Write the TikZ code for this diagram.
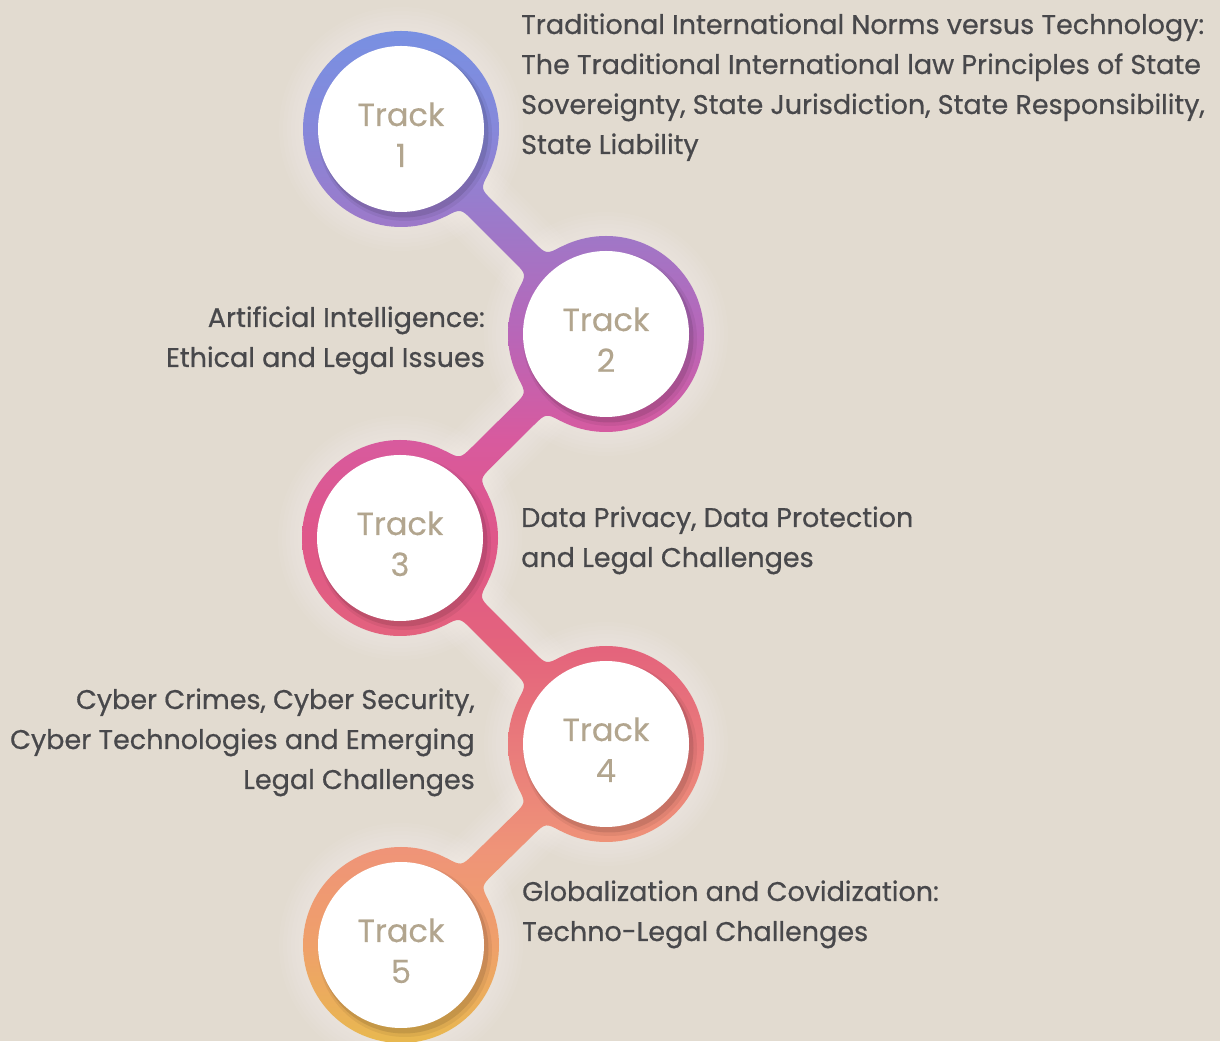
\documentclass[tikz,border=0pt]{standalone}
\usepackage{fontspec}
\setmainfont{Poppins}
\newfontfamily\descfont{Poppins}[FakeBold=0.6]
\newfontfamily\lblfont{Poppins}[FakeBold=0.3]
\usetikzlibrary{calc}
\definecolor{bg}{HTML}{E2DBD0}
\definecolor{txt}{HTML}{48484B}
\definecolor{lbl}{HTML}{B2A58E}
\definecolor{g0}{HTML}{E8B850}
\definecolor{g1}{HTML}{EFA06A}
\definecolor{g2}{HTML}{EF9478}
\definecolor{g3}{HTML}{E97A7B}
\definecolor{g4}{HTML}{E4647C}
\definecolor{g5}{HTML}{DF5789}
\definecolor{g6}{HTML}{D85A9E}
\definecolor{g7}{HTML}{B866B8}
\definecolor{g8}{HTML}{9E78C8}
\definecolor{g9}{HTML}{8688DA}
\definecolor{g10}{HTML}{7890E2}
\pgfdeclareverticalshading{trackgrad}{100bp}{color(0bp)=(g0); color(25bp)=(g0);
  color(29.61bp)=(g1); color(34.17bp)=(g2); color(39.27bp)=(g3); color(43.78bp)=(g4);
  color(49.16bp)=(g5); color(53.87bp)=(g6); color(58.96bp)=(g7); color(63.95bp)=(g8);
  color(68.81bp)=(g9); color(73.56bp)=(g10); color(75bp)=(g10); color(100bp)=(g10)}
\newcommand\ringfill[1]{%
  \begin{scope}
    \clip (#1) circle[radius=98];
    \shade[shading=trackgrad] (0,0) rectangle (1220,1041);
  \end{scope}}
\newcommand\linkfill[2]{%
  \begin{scope}
    \clip ($(#1)!30.5pt!90:(#2)$)
      -- ($(#1)!93.1pt!(#2)!30.5pt!90:(#2)$)
      .. controls ($(#1)!98.5pt!(#2)!14pt!90:(#2)$) .. ($(#1)!115.9pt!(#2)!14pt!90:(#2)$)
      -- ($(#2)!115.9pt!(#1)!14pt!-90:(#1)$)
      .. controls ($(#2)!98.5pt!(#1)!14pt!-90:(#1)$) .. ($(#2)!93.1pt!(#1)!30.5pt!-90:(#1)$)
      -- ($(#2)!30.5pt!-90:(#1)$)
      -- ($(#2)!30.5pt!90:(#1)$)
      -- ($(#2)!93.1pt!(#1)!30.5pt!90:(#1)$)
      .. controls ($(#2)!98.5pt!(#1)!14pt!90:(#1)$) .. ($(#2)!115.9pt!(#1)!14pt!90:(#1)$)
      -- ($(#1)!115.9pt!(#2)!14pt!-90:(#2)$)
      .. controls ($(#1)!98.5pt!(#2)!14pt!-90:(#2)$) .. ($(#1)!93.1pt!(#2)!30.5pt!-90:(#2)$)
      -- ($(#1)!30.5pt!-90:(#2)$) -- cycle;
    \shade[shading=trackgrad] (0,0) rectangle (1220,1041);
  \end{scope}}
\tikzset{
  disc/.style={circle, fill=white, minimum size=166pt, inner sep=0pt},
  tracklbl/.style={text=lbl, font=\lblfont\fontsize{32}{41}\selectfont, align=center, inner sep=0pt},
  desc/.style={text=txt, font=\descfont\fontsize{27}{40}\selectfont, inner sep=0pt},
  glow/.style={white, opacity=0.05}
}
\begin{document}
\begin{tikzpicture}[x=1pt,y=1pt]
\useasboundingbox (0,0) rectangle (1220,1041);
\fill[bg] (0,0) rectangle (1220,1041);
\coordinate (p1) at (401,912);
\coordinate (p2) at (606,707);
\coordinate (p3) at (400,503);
\coordinate (p4) at (606,297);
\coordinate (p5) at (401,96);
% soft halo
\foreach \k in {1,...,6}{
  \foreach \p in {p1,p2,p3,p4,p5}{\fill[glow] (\p) circle[radius=98+4*\k];}
  \foreach \a/\b in {p1/p2,p2/p3,p3/p4,p4/p5}{\draw[glow, line width={28pt+8pt*\k}] (\a) -- (\b);}
}
% links and rings
\linkfill{p1}{p2}
\linkfill{p2}{p3}
\linkfill{p3}{p4}
\linkfill{p4}{p5}
\ringfill{p1}
\ringfill{p2}
\ringfill{p3}
\ringfill{p4}
\ringfill{p5}
% inner shadows
\foreach \p in {p1,p2,p3,p4,p5}{
  \fill[black, opacity=0.06] ($(\p)+(4,-5)$) circle[radius=87];
  \fill[black, opacity=0.10] ($(\p)+(3,-4)$) circle[radius=84.5];
}
% white discs
\node[disc] (d1) at (p1) {};
\node[disc] (d2) at (p2) {};
\node[disc] (d3) at (p3) {};
\node[disc] (d4) at (p4) {};
\node[disc] (d5) at (p5) {};
% labels (anchor base = last line)
\node[tracklbl, anchor=base] (l1) at ($(d1.center)+(0,-38)$) {Track\\1};
\node[tracklbl, anchor=base] (l2) at ($(d2.center)+(0,-38)$) {Track\\2};
\node[tracklbl, anchor=base] (l3) at ($(d3.center)+(0,-38)$) {Track\\3};
\node[tracklbl, anchor=base] (l4) at ($(d4.center)+(0,-38)$) {Track\\4};
\node[tracklbl, anchor=base] (l5) at ($(d5.center)+(0,-38)$) {Track\\5};
% descriptions (anchor base = last line)
\node[desc, align=left, anchor=base west] (t1) at (521,887)
  {Traditional International Norms versus Technology:\\The Traditional International law Principles of State\\Sovereignty, State Jurisdiction, State Responsibility,\\State Liability};
\node[desc, align=right, anchor=base east] (t2) at (485,674)
  {Artificial Intelligence:\\Ethical and Legal Issues};
\node[desc, align=left, anchor=base west] (t3) at (521,474)
  {Data Privacy, Data Protection\\and Legal Challenges};
\node[desc, align=right, anchor=base east] (t4) at (475,252)
  {Cyber Crimes, Cyber Security,\\Cyber Technologies and Emerging\\Legal Challenges};
\node[desc, align=left, anchor=base west] (t5) at (522,100)
  {Globalization and Covidization:\\Techno-Legal Challenges};
\end{tikzpicture}
\end{document}
